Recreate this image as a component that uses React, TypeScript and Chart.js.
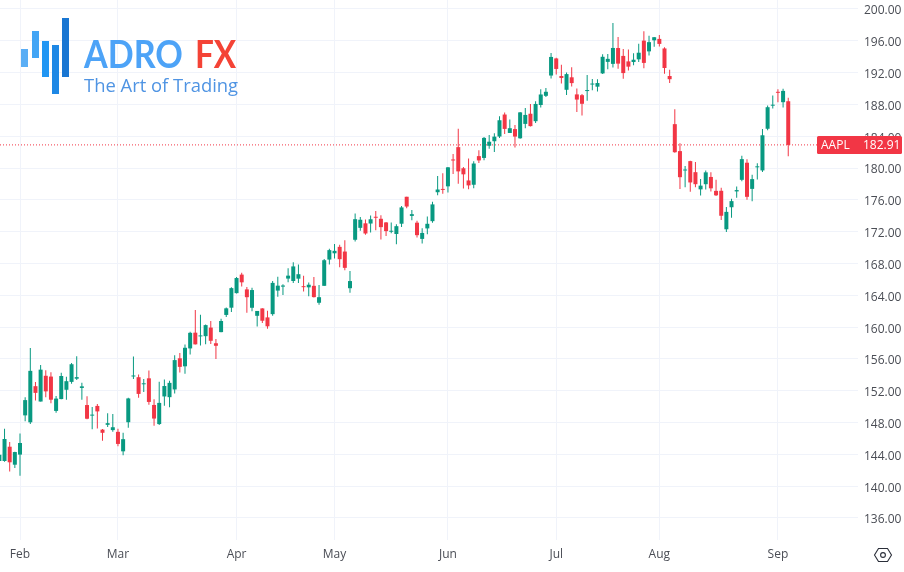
import React, { useEffect, useRef } from "react";
import { Chart, registerables } from "chart.js";

Chart.register(...registerables);

const dates = [
  "Jan 26","Jan 27","Jan 30","Jan 31",
  "Feb 1","Feb 2","Feb 3","Feb 6","Feb 7","Feb 8","Feb 9","Feb 10","Feb 13","Feb 14","Feb 15","Feb 16","Feb 17","Feb 21","Feb 22","Feb 23","Feb 24","Feb 27","Feb 28",
  "Mar 1","Mar 2","Mar 3","Mar 6","Mar 7","Mar 8","Mar 9","Mar 10","Mar 13","Mar 14","Mar 15","Mar 16","Mar 17","Mar 20","Mar 21","Mar 22","Mar 23","Mar 24","Mar 27","Mar 28","Mar 29","Mar 30","Mar 31",
  "Apr 3","Apr 4","Apr 5","Apr 6","Apr 10","Apr 11","Apr 12","Apr 13","Apr 14","Apr 17","Apr 18","Apr 19","Apr 20","Apr 21","Apr 24","Apr 25","Apr 26","Apr 27","Apr 28",
  "May 1","May 2","May 3","May 4","May 5","May 8","May 9","May 10","May 11","May 12","May 15","May 16","May 17","May 18","May 19","May 22","May 23","May 24","May 25","May 26","May 30","May 31",
  "Jun 1","Jun 2","Jun 5","Jun 6","Jun 7","Jun 8","Jun 9","Jun 12","Jun 13","Jun 14","Jun 15","Jun 16","Jun 20","Jun 21","Jun 22","Jun 23","Jun 26","Jun 27","Jun 28","Jun 29","Jun 30",
  "Jul 3","Jul 5","Jul 6","Jul 7","Jul 10","Jul 11","Jul 12","Jul 13","Jul 14","Jul 17","Jul 18","Jul 19","Jul 20","Jul 21","Jul 24","Jul 25","Jul 26","Jul 27","Jul 28","Jul 31",
  "Aug 1","Aug 2","Aug 3","Aug 4","Aug 7","Aug 8","Aug 9","Aug 10","Aug 11","Aug 14","Aug 15","Aug 16","Aug 17","Aug 18","Aug 21","Aug 22","Aug 23","Aug 24","Aug 25","Aug 28","Aug 29","Aug 30","Aug 31",
  "Sep 1","Sep 5","Sep 6",
];

const opens = [
  143.17,143.16,144.96,142.70,
  143.97,148.90,148.03,152.57,150.64,153.88,153.78,149.46,150.95,152.12,153.11,153.51,152.35,150.20,148.87,150.09,147.11,147.71,147.05,
  146.83,144.38,148.04,153.79,153.70,152.81,153.56,150.21,147.81,151.28,151.19,152.16,156.08,155.07,157.32,159.30,158.83,158.86,159.94,157.97,159.37,161.53,162.44,
  164.27,166.60,164.74,162.43,161.42,162.35,161.22,161.63,164.59,165.09,166.10,165.80,166.09,165.05,165.00,165.19,163.06,165.19,168.49,
  169.28,170.09,169.50,164.89,170.98,172.48,173.05,173.02,173.85,173.62,173.16,171.99,171.71,173.00,176.39,173.98,173.13,171.09,172.41,173.32,176.96,177.33,
  177.70,181.03,182.63,179.97,178.44,177.90,181.50,181.27,182.80,183.37,183.96,186.73,184.41,184.90,183.74,185.55,186.83,185.89,187.93,189.08,191.63,
  193.78,191.57,189.84,191.41,189.26,189.16,189.68,190.50,190.23,191.90,193.35,193.10,195.09,194.10,193.41,193.33,193.67,196.02,194.67,196.06,
  196.24,195.04,191.57,185.52,182.13,179.69,180.87,179.48,177.32,177.97,178.88,177.13,177.14,172.30,175.07,177.06,178.52,180.67,177.38,180.09,179.70,184.94,187.84,
  189.49,188.28,188.40,
];

const highs = [
  144.25,147.23,145.55,144.34,
  146.61,151.18,157.38,153.10,155.23,154.58,154.33,151.34,154.26,153.77,155.50,156.33,153.00,151.30,149.95,150.34,147.19,149.17,149.08,
  147.23,146.71,151.11,156.30,154.03,153.47,154.54,150.94,153.14,153.40,153.25,156.46,156.74,157.82,159.40,162.14,161.55,160.34,160.77,158.49,161.05,162.47,165.00,
  166.29,166.84,165.05,164.96,162.03,162.36,162.06,165.80,166.32,165.39,167.41,168.16,167.87,166.45,165.60,166.31,165.28,168.56,169.85,
  170.45,170.35,170.92,167.04,174.30,173.85,173.54,174.03,174.59,174.06,173.21,173.14,172.93,175.24,176.39,174.71,173.38,172.42,173.90,175.77,178.99,179.35,
  180.12,181.78,184.95,180.12,181.21,180.84,182.23,183.89,184.15,184.39,186.52,186.99,186.10,185.41,187.05,187.56,188.05,188.39,189.90,190.07,194.48,
  193.88,192.98,192.02,192.67,189.99,189.30,191.70,191.19,191.18,194.32,194.33,198.23,196.47,194.97,194.91,194.44,195.64,197.20,196.63,196.49,
  196.73,195.18,192.37,187.38,183.13,180.27,180.93,180.75,178.62,179.69,179.48,178.54,177.51,175.10,176.13,177.68,181.55,181.10,179.15,180.59,184.90,187.85,189.12,
  189.92,189.98,188.85,
];

const lows = [
  141.90,143.08,141.85,142.28,
  141.32,148.17,147.83,150.78,150.64,151.17,150.42,149.22,150.92,150.86,152.88,153.35,150.85,148.41,147.16,147.24,145.72,147.45,146.83,
  145.01,143.90,147.33,153.46,151.13,151.83,150.23,147.61,147.70,150.10,149.92,151.64,154.28,154.15,156.54,157.81,157.68,157.85,157.87,155.98,159.35,161.27,161.91,
  164.22,165.11,161.80,162.00,160.08,160.51,159.78,161.42,163.82,164.03,165.65,165.54,165.56,164.49,163.89,163.73,162.80,165.19,167.88,
  168.64,167.54,167.16,164.31,170.76,172.11,171.60,171.90,172.17,171.00,171.47,171.80,170.42,172.58,174.94,173.45,171.28,170.52,171.69,173.11,176.57,176.76,
  176.93,179.26,178.04,177.43,177.32,177.46,180.63,180.97,182.44,182.02,183.78,184.27,184.41,182.59,183.67,185.01,185.23,185.67,187.60,188.94,191.26,
  191.76,190.62,189.20,190.24,187.04,186.60,188.47,189.78,189.63,191.81,192.42,192.65,192.50,191.23,192.25,192.92,193.32,192.55,194.14,195.26,
  195.28,191.85,190.69,181.92,177.35,177.58,177.01,177.60,176.55,177.31,177.05,176.50,173.48,171.96,173.74,176.25,178.33,176.01,175.82,178.55,179.50,184.74,187.48,
  188.28,187.61,181.47,
];

const closes = [
  143.96,145.93,143.00,144.29,
  145.43,150.82,154.50,151.73,154.65,151.92,150.87,151.01,153.85,153.20,155.33,153.71,152.55,148.48,148.91,149.40,146.71,147.92,147.41,
  145.31,145.91,151.03,153.83,151.60,152.87,150.59,148.50,150.47,152.59,152.99,155.85,155.00,157.40,159.28,157.83,158.93,160.25,158.28,157.65,160.77,162.36,164.90,
  166.17,165.63,163.76,164.66,162.03,160.80,160.10,165.56,165.21,165.23,166.47,167.63,166.65,165.02,165.33,163.77,163.76,168.41,169.68,
  169.59,168.54,167.45,165.79,173.57,173.50,171.77,173.56,173.75,172.57,172.07,172.07,172.69,175.05,175.16,174.20,171.56,171.84,172.99,175.43,177.30,177.25,
  180.09,180.95,179.58,179.21,177.82,180.57,180.96,183.79,183.31,183.95,186.01,184.92,185.01,183.96,187.00,186.68,185.27,188.06,189.25,189.59,193.97,
  192.46,191.33,191.81,190.68,188.61,188.08,189.77,190.54,190.69,193.99,193.73,195.10,193.13,191.94,192.75,193.62,194.50,193.22,195.83,196.45,
  195.61,192.58,191.17,181.99,178.85,179.80,178.19,177.97,177.79,179.46,177.45,176.57,174.00,174.49,175.84,177.23,181.12,176.38,178.61,180.19,184.12,187.65,187.87,
  189.46,189.70,182.91,
];

const monthTickDates = ["Feb 1","Mar 1","Apr 3","May 1","Jun 1","Jul 3","Aug 1","Sep 1"];
const monthTickLabels = ["Feb","Mar","Apr","May","Jun","Jul","Aug","Sep"];
const priceTicks = [136,140,144,148,152,156,160,164,168,172,176,180,184,188,192,196,200];
const symbol = "AAPL";

const GREEN = "#089981";
const RED = "#f23645";
const GRID = "#f0f3fa";
const TEXT = "#4a4d55";
const AXIS_FONT = '"Open Sans", sans-serif';

const isUp = (i: number) => closes[i] >= opens[i];
const candleColors = dates.map((_, i) => (isUp(i) ? GREEN : RED));
const wickData = dates.map((_, i) => ({ x: i, y: [lows[i], highs[i]] }));
const bodyData = dates.map((_, i) => ({ x: i, y: [opens[i], closes[i]] }));
const lastClose = closes[closes.length - 1];

const X_MIN = 0.121;
const X_MAX = 166.53;
const Y_MIN = 133.23;
const Y_MAX = 201.13;

const noPadding = (scale: any) => {
  scale.paddingTop = 0;
  scale.paddingBottom = 0;
  scale.paddingLeft = 0;
  scale.paddingRight = 0;
};

const priceBadge = {
  id: "priceBadge",
  afterDraw(chart: any) {
    const { ctx, scales } = chart;
    const y = scales.y.getPixelForValue(lastClose);
    ctx.save();
    ctx.fillStyle = RED;
    ctx.beginPath();
    ctx.roundRect(817, Math.round(y) - 9, 85, 18, 1.5);
    ctx.fill();
    ctx.fillStyle = "#ffffff";
    ctx.font = `12px ${AXIS_FONT}`;
    ctx.textBaseline = "middle";
    ctx.textAlign = "left";
    ctx.fillText(symbol, 821, Math.round(y) + 0.5);
    ctx.fillText(lastClose.toFixed(2), 863, Math.round(y) + 0.5);
    ctx.restore();
  },
};

const logoBars = [
  { left: 21, top: 49, w: 7, h: 18, c: "#5aaef5" },
  { left: 31.5, top: 31, w: 7, h: 27, c: "#42a5f5" },
  { left: 41.5, top: 41, w: 7, h: 35.5, c: "#2196f3" },
  { left: 51.5, top: 44.5, w: 7, h: 49.5, c: "#1e88e5" },
  { left: 62, top: 18, w: 7, h: 58.5, c: "#1976d2" },
];

export default function App() {
  const ref = useRef<HTMLCanvasElement>(null);

  useEffect(() => {
    const chart = new Chart(ref.current!, {
      type: "bar",
      data: {
        datasets: [
          {
            type: "line",
            data: [
              { x: X_MIN, y: lastClose },
              { x: X_MAX, y: lastClose },
            ],
            borderColor: RED,
            borderWidth: 1,
            borderDash: [1, 2],
            pointRadius: 0,
            order: 3,
          },
          {
            type: "bar",
            data: wickData,
            backgroundColor: candleColors,
            barThickness: 1,
            grouped: false,
            inflateAmount: 0,
            order: 2,
          },
          {
            type: "bar",
            data: bodyData,
            backgroundColor: candleColors,
            barThickness: 4,
            minBarLength: 1,
            grouped: false,
            inflateAmount: 0,
            order: 1,
          },
        ] as any,
      },
      options: {
        responsive: false,
        animation: false,
        layout: { padding: 0, autoPadding: false },
        plugins: { legend: { display: false }, tooltip: { enabled: false } },
        scales: {
          x: {
            type: "linear",
            min: X_MIN,
            max: X_MAX,
            offset: false,
            afterBuildTicks(scale: any) {
              scale.ticks = monthTickDates.map((d) => ({ value: dates.indexOf(d) }));
            },
            afterFit(scale: any) {
              scale.height = 32;
              noPadding(scale);
            },
            grid: { color: GRID, drawTicks: false, offset: false },
            border: { display: false },
            ticks: {
              autoSkip: false,
              maxRotation: 0,
              padding: 7,
              color: TEXT,
              font: { family: AXIS_FONT, size: 12 },
              callback: (v: any) => {
                const k = monthTickDates.findIndex((d) => dates.indexOf(d) === v);
                return k >= 0 ? monthTickLabels[k] : "";
              },
            },
          },
          y: {
            type: "linear",
            position: "right",
            min: Y_MIN,
            max: Y_MAX,
            afterBuildTicks(scale: any) {
              scale.ticks = priceTicks.map((value) => ({ value }));
            },
            afterFit(scale: any) {
              scale.width = 46;
              noPadding(scale);
            },
            grid: { color: GRID, drawTicks: false },
            border: { display: false },
            ticks: {
              padding: 6,
              labelOffset: 2,
              color: TEXT,
              font: { family: AXIS_FONT, size: 12 },
              callback: (v: any) => Number(v).toFixed(2),
            },
          },
        },
      } as any,
      plugins: [priceBadge],
    });
    return () => chart.destroy();
  }, []);

  const wordStyle: React.CSSProperties = {
    position: "absolute",
    top: 30,
    fontFamily: "Lato, sans-serif",
    fontWeight: 700,
    fontSize: 39,
    lineHeight: "46px",
    whiteSpace: "nowrap",
    transformOrigin: "left top",
  };

  return (
    <div style={{ position: "absolute", left: 0, top: 0, width: 904, height: 572, background: "#fff", overflow: "hidden" }}>
      <canvas ref={ref} width={904} height={572} style={{ display: "block" }} />
      {logoBars.map((b, i) => (
        <div key={i} style={{ position: "absolute", left: b.left, top: b.top, width: b.w, height: b.h, background: b.c }} />
      ))}
      <div style={{ ...wordStyle, left: 84, color: "#4da3f7", transform: "scaleX(0.875)" }}>ADRO</div>
      <div style={{ ...wordStyle, left: 195, color: "#f44336", transform: "scaleX(0.855)" }}>FX</div>
      <div style={{ position: "absolute", left: 84, top: 72, fontFamily: '"Open Sans", sans-serif', fontWeight: 400, fontSize: 18.4, lineHeight: "26px", color: "#4f94e3", whiteSpace: "nowrap" }}>
        The Art of Trading
      </div>
      <svg style={{ position: "absolute", left: 873, top: 546 }} width="20" height="18" viewBox="0 0 20 18">
        <path d="M5.5 2.5 H14.5 L18.5 9 L14.5 15.5 H5.5 L1.5 9 Z" fill="none" stroke="#2a2e39" strokeWidth="1.1" />
        <circle cx="10" cy="9" r="2.4" fill="none" stroke="#2a2e39" strokeWidth="1.1" />
      </svg>
    </div>
  );
}
